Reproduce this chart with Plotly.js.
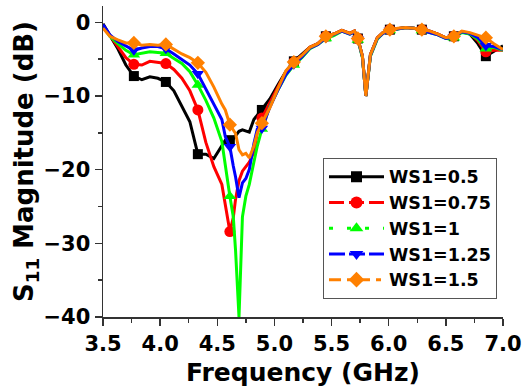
<!DOCTYPE html>
<html>
<head>
<meta charset="utf-8">
<script src="https://cdn.plot.ly/plotly-3.0.1.min.js"></script>
<style>html,body{margin:0;padding:0;background:#fff;}#chart{width:526px;height:389px;}</style>
</head>
<body>
<div id="chart"></div>
<script>
const freq = [3.50,3.56,3.63,3.70,3.77,3.84,3.91,3.98,4.05,4.12,4.19,4.26,4.33,4.40,4.47,4.54,4.57,4.61,4.64,4.66,4.69,4.72,4.75,4.78,4.82,4.85,4.89,
  4.96,5.03,5.10,5.17,5.24,5.31,5.38,5.45,5.52,5.59,5.66,5.70,5.73,5.77,5.80,5.84,5.90,5.95,6.01,6.08,6.15,6.22,6.29,6.36,6.43,6.50,6.57,6.64,6.71,
  6.78,6.85,6.92,7.00];

const markerFreq = [3.77,4.05,4.33,4.61,4.89,5.17,5.45,5.73,6.01,6.29,6.57,6.85];

const ws05 = [-0.2,-1.8,-3.6,-5.8,-7.3,-7.8,-7.4,-7.6,-8.1,-9.3,-11.3,-13.5,-17.9,-17.9,-18.5,-16.8,-16.0,-16.0,-15.8,-15.4,-14.8,-14.6,-14.8,-14.9,-13.2,-12.6,-11.9,
  -10.4,-8.5,-6.7,-5.3,-4.4,-3.4,-2.9,-1.9,-1.6,-1.1,-1.5,-1.2,-2.2,-4.6,-10.0,-4.4,-2.1,-1.4,-1.0,-0.8,-0.7,-0.8,-1.0,-1.2,-1.6,-2.1,-1.9,-1.3,-1.6,
  -2.9,-4.6,-4.0,-3.2];
const ws075 = [-0.5,-1.8,-3.3,-4.8,-5.7,-5.8,-5.3,-5.5,-5.6,-6.4,-7.6,-9.3,-11.9,-16.3,-19.6,-22.0,-24.8,-28.4,-26.5,-24.0,-21.5,-20.2,-19.6,-19.0,-17.6,-15.0,-13.0,
  -10.8,-8.8,-6.8,-5.4,-4.5,-3.4,-2.9,-1.9,-1.6,-1.1,-1.5,-1.2,-2.2,-4.6,-10.0,-4.4,-2.1,-1.4,-1.0,-0.8,-0.7,-0.8,-1.0,-1.2,-1.6,-2.1,-1.9,-1.3,-1.5,
  -2.5,-4.0,-3.8,-3.8];
const ws1 = [-0.6,-1.9,-2.9,-3.8,-4.4,-4.2,-4.0,-4.1,-4.2,-4.9,-5.6,-6.7,-8.5,-10.6,-13.0,-16.2,-19.6,-23.6,-26.4,-31.0,-40.0,-26.4,-23.6,-22.0,-19.0,-16.8,-14.5,
  -11.4,-9.2,-7.2,-5.8,-4.8,-3.6,-3.0,-2.2,-1.8,-1.2,-1.6,-1.3,-2.4,-4.8,-10.0,-4.6,-2.3,-1.5,-1.1,-0.9,-0.7,-0.8,-1.1,-1.3,-1.7,-2.2,-2.1,-1.4,-1.6,
  -2.3,-3.6,-3.4,-3.8];
const ws125 = [-0.3,-1.7,-2.6,-3.2,-3.8,-3.5,-3.3,-3.3,-3.6,-4.3,-5.0,-5.8,-7.0,-9.0,-11.0,-13.2,-15.5,-16.9,-19.5,-21.0,-23.8,-21.8,-21.2,-20.0,-16.5,-14.5,-14.4,
  -11.5,-9.2,-7.1,-5.7,-4.7,-3.5,-3.0,-2.1,-1.7,-1.2,-1.6,-1.3,-2.3,-4.7,-10.0,-4.5,-2.2,-1.5,-1.1,-0.9,-0.7,-0.8,-1.1,-1.3,-1.7,-2.2,-2.0,-1.3,-1.5,
  -2.1,-3.2,-3.3,-3.7];
const ws15 = [-0.8,-1.9,-2.4,-2.8,-2.8,-3.1,-3.0,-3.1,-3.0,-3.7,-4.3,-4.8,-5.5,-6.8,-8.8,-11.1,-11.9,-13.9,-14.6,-15.1,-17.3,-18.0,-17.8,-18.4,-16.8,-15.0,-13.7,
  -11.6,-9.0,-6.6,-5.4,-4.5,-3.4,-2.9,-1.9,-1.6,-1.1,-1.5,-1.2,-2.2,-4.6,-10.0,-4.4,-2.1,-1.4,-1.0,-0.8,-0.7,-0.8,-1.0,-1.2,-1.6,-2.1,-1.9,-1.2,-1.4,
  -1.8,-2.1,-2.9,-3.7];

const seriesNames = ['WS1=0.5','WS1=0.75','WS1=1','WS1=1.25','WS1=1.5'];
const seriesData = [ws05, ws075, ws1, ws125, ws15];
const colors = ['#000000','#ff0000','#00ff00','#0000ff','#ff8000'];
const symbols = ['square','circle','triangle-up','triangle-down','diamond'];
const msizes = [10, 11, 11, 11, 11];
const dashes = ['solid','15px,5px','4px,14px','16px,4px','12px,6px,5px,6px'];

const traces = [];
seriesData.forEach((ys, i) => {
  traces.push({x: freq, y: ys, mode: 'lines', type: 'scatter', showlegend: false,
    line: {color: colors[i], width: 3}, hoverinfo: 'skip'});
  traces.push({x: markerFreq, y: markerFreq.map(f => ys[freq.indexOf(f)]), mode: 'markers', type: 'scatter',
    showlegend: false, marker: {color: colors[i], symbol: symbols[i], size: msizes[i], line: {width: 0}}});
});
seriesData.forEach((ys, i) => {
  traces.push({x: [null], y: [null], mode: 'lines+markers', type: 'scatter', name: seriesNames[i],
    line: {color: colors[i], width: 3, dash: dashes[i]},
    marker: {color: colors[i], symbol: symbols[i], size: msizes[i] + 1, line: {width: 0}}});
});

const tickFont = {family: 'DejaVu Sans', size: 21, color: '#000', weight: 'bold'};
const layout = {
  width: 526, height: 389,
  margin: {l: 103, r: 23, t: 6, b: 72},
  paper_bgcolor: '#fff', plot_bgcolor: '#fff',
  showlegend: true,
  xaxis: {
    range: [3.5, 7.0], tick0: 3.5, dtick: 0.5, tickformat: '.1f',
    ticks: 'outside', ticklen: 7, tickwidth: 1.5, tickcolor: '#333',
    showline: true, linecolor: '#333', linewidth: 1.5,
    showgrid: false, zeroline: false,
    minor: {dtick: 0.25, ticks: 'outside', ticklen: 4, tickwidth: 1.5, tickcolor: '#333', showgrid: false},
    tickfont: tickFont,
    title: {text: 'Frequency (GHz)', font: {family: 'DejaVu Sans', size: 25, color: '#000', weight: 'bold'}, standoff: 9}
  },
  yaxis: {
    range: [-40, 2.21], tickvals: [-40, -30, -20, -10, 0],
    ticks: 'outside', ticklen: 7, tickwidth: 1.5, tickcolor: '#333',
    showline: true, linecolor: '#333', linewidth: 1.5,
    showgrid: false, zeroline: false,
    minor: {dtick: 5, tick0: 0, ticks: 'outside', ticklen: 4, tickwidth: 1.5, tickcolor: '#333', showgrid: false},
    tickfont: tickFont,
    title: {text: 'S<sub>11</sub> Magnitude (dB)', font: {family: 'DejaVu Sans', size: 26, color: '#000', weight: 'bold'}, standoff: 2}
  },
  legend: {
    x: 0.55, y: 0.512, xanchor: 'left', yanchor: 'top',
    bgcolor: '#fff', bordercolor: '#555', borderwidth: 1,
    itemwidth: 55,
    font: {family: 'DejaVu Sans', size: 17.5, color: '#000', weight: 'bold'}
  }
};

Plotly.newPlot('chart', traces, layout, {staticPlot: true});
</script>
</body>
</html>
